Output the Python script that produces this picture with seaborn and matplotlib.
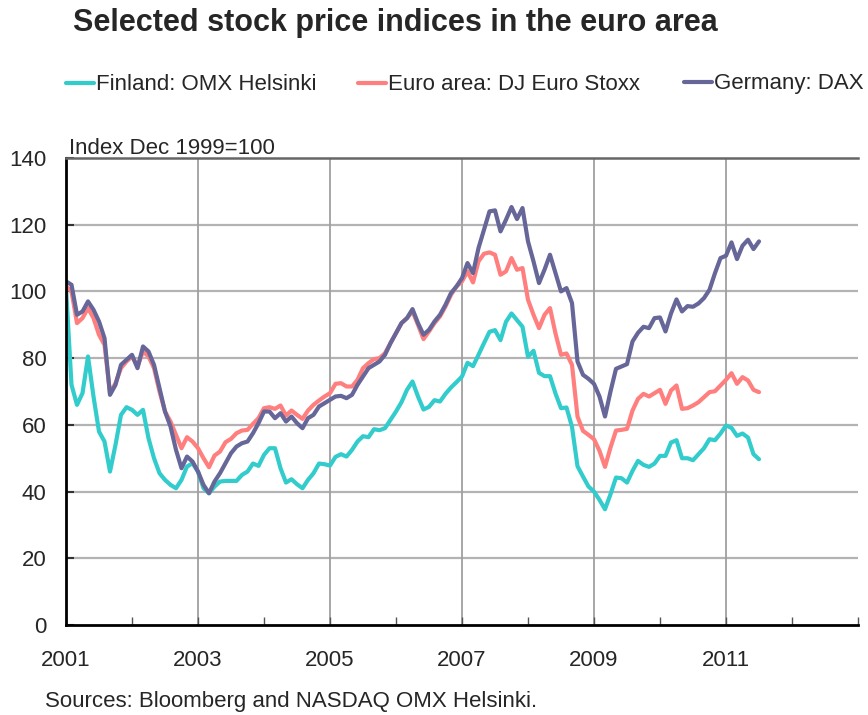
import numpy as np
import pandas as pd
import matplotlib
matplotlib.use("Agg")
import matplotlib.pyplot as plt
import seaborn as sns

# ---- data (monthly, Jan 2001 - Jul 2011) ----
start_year = 2001
finland = [
    101, 72, 66, 69.5, 80.5, 68.5, 58, 55, 46, 54, 63, 65.3,
    64.5, 63, 64.5, 56, 50, 45.5, 43.5, 42, 41, 43.5, 47.5, 48.5,
    46, 41, 39.5, 41.5, 43, 43.2, 43.2, 43.2, 45, 46, 48.4, 47.7,
    51, 53, 53, 47, 42.7, 43.7, 42.2, 41, 43.5, 45.5, 48.4, 48.2,
    47.8, 50.4, 51.2, 50.5, 52.5, 55, 56.6, 56.3, 58.7, 58.4, 59, 61.5,
    64, 66.8, 70.5, 73, 68.5, 64.6, 65.4, 67.4, 67, 69.3, 71.2, 72.8,
    74.5, 78.6, 77.6, 81, 84.5, 87.9, 88.4, 85.4, 90.9, 93.4, 91.4, 89.4,
    80.4, 82.2, 75.6, 74.6, 74.6, 69.4, 65, 65.2, 59.4, 47.6, 44.5, 41.5,
    40, 37.5, 34.7, 39.2, 44.2, 44, 42.7, 46.2, 49.2, 48, 47.4, 48.4,
    50.7, 50.7, 54.7, 55.4, 50, 50, 49.4, 51.2, 53, 55.7, 55.4, 57.4,
    59.8, 59.1, 56.7, 57.4, 56.2, 51.2, 49.7,
]
euro_area = [
    101.5, 100, 90.5, 92, 95, 92, 87, 84, 69.5, 72.5, 77, 79,
    80.5, 77.5, 82, 80.5, 77, 70, 64, 61, 57, 53, 56.3, 55,
    53, 50, 47.3, 50.8, 52, 54.8, 55.8, 57.5, 58.3, 58.5, 60.3, 62,
    65, 65.3, 64.8, 65.8, 62.8, 64.3, 63, 61.8, 64.3, 66, 67.3, 68.5,
    69.5, 72.3, 72.5, 71.5, 71.5, 73.5, 77, 78.5, 79.7, 80, 81.5, 84.5,
    87.5, 90.5, 92, 94, 90, 85.7, 88, 90.5, 92.5, 95.5, 99, 101.5,
    103, 106, 102.7, 109, 111.3, 111.7, 111, 105, 106, 110, 106.5, 107,
    97.5, 93, 89, 93, 95, 87.4, 81, 81.4, 78, 62.5, 58.2, 57,
    55.7, 52.2, 47.4, 53.2, 58.3, 58.5, 58.8, 64.3, 67.8, 69.3, 68.5, 69.5,
    70.5, 66.3, 70.3, 71.8, 64.8, 65, 65.8, 66.8, 68.3, 69.8, 70.1, 71.8,
    73.5, 75.5, 72.3, 74.3, 73.3, 70.5, 69.8,
]
germany = [
    103, 102, 93, 94, 97, 94.5, 91, 86, 69, 72, 78, 79.5,
    81, 77, 83.5, 82, 78, 71, 64, 59.5, 52.5, 47, 50.5, 49,
    46, 42, 39.5, 43, 45.5, 48.5, 51.5, 53.5, 54.5, 55, 57.5, 60.5,
    64, 64, 62, 63.5, 61, 62.5, 60.5, 59, 62, 63, 65.5, 66.5,
    67.5, 68.5, 68.7, 68, 69, 72, 74.5, 77, 78, 79, 81, 84.5,
    87.5, 90.5, 92, 94.7, 90.5, 87, 88.5, 91, 93, 96, 99.5, 101.5,
    104, 108.5, 105.5, 113, 118.5, 124, 124.3, 118, 121.5, 125.3, 121.7, 125,
    115, 109, 102.5, 106.5, 111, 105.5, 100, 101, 96.5, 79, 75, 73.8,
    72.3, 68.5, 62.5, 70, 76.8, 77.5, 78.2, 85, 87.6, 89.4, 89, 92,
    92.2, 88, 93.4, 97.6, 94, 95.6, 95.4, 96.4, 98, 100.5, 105.5, 110,
    110.7, 114.7, 109.7, 113.7, 115.5, 112.7, 115,
]
series_names = ["Finland: OMX Helsinki", "Euro area: DJ Euro Stoxx", "Germany: DAX"]
colors = ["#33CCCC", "#FF7F7F", "#666699"]
year_ticks = list(range(2001, 2014))
year_labels = [str(y) if y % 2 == 1 and y < 2013 else "" for y in year_ticks]
y_ticks = [0, 20, 40, 60, 80, 100, 120, 140]

title = "Selected stock price indices in the euro area"
unit_label = "Index Dec 1999=100"
source = "Sources: Bloomberg and NASDAQ OMX Helsinki."

# ---- build long table ----
n = len(finland)
years = start_year + np.arange(n) / 12.0
frames = []
for name, vals in zip(series_names, [finland, euro_area, germany]):
    frames.append(pd.DataFrame({"year": years, "value": vals, "series": name}))
df = pd.concat(frames, ignore_index=True)

# ---- plot ----
sns.set_theme(style="white")
plt.rcParams["font.family"] = ["Liberation Sans", "DejaVu Sans"]

W, H = 868, 715
fig = plt.figure(figsize=(W / 100, H / 100), dpi=100)
ax = fig.add_axes([66 / W, 1 - 625 / H, (858 - 66) / W, (625 - 158) / H])

sns.lineplot(data=df, x="year", y="value", hue="series", hue_order=series_names,
             palette=colors, linewidth=3, ax=ax, legend=True)

ax.set_xlim(2001, 2013)
ax.set_ylim(0, 140)
ax.set_xticks(year_ticks)
ax.set_xticklabels(year_labels)
ax.set_yticks(y_ticks)
ax.set_xlabel("")
ax.set_ylabel("")

ax.tick_params(axis="x", direction="in", length=6, width=1, color="#555555",
               labelsize=16, pad=18, bottom=True)
ax.tick_params(axis="y", direction="in", length=6, width=1.5, color="#333333",
               labelsize=16, pad=14, left=True)

for y in y_ticks[1:-1]:
    ax.axhline(y, color="#b3b3b3", lw=1.6, zorder=0)
for yr in year_ticks:
    if yr % 2 == 1 and 2001 < yr < 2013:
        ax.axvline(yr, color="#a0a0a0", lw=1.3, zorder=0)

for side in ["left", "bottom"]:
    ax.spines[side].set_color("black")
    ax.spines[side].set_linewidth(2)
ax.spines["top"].set_color("#666666")
ax.spines["top"].set_linewidth(1.8)
ax.spines["right"].set_visible(False)

handles, labels = ax.get_legend_handles_labels()
ax.get_legend().remove()
legend_x = [66, 358, 684]
legend_y = [85, 85, 84]
for h, l, lx, ly in zip(handles, labels, legend_x, legend_y):
    fig.legend([h], [l], loc="center left", bbox_to_anchor=(lx / W, 1 - ly / H),
               frameon=False, fontsize=16, handlelength=1.25, handletextpad=0.1,
               borderpad=0, borderaxespad=0)

fig.text(73 / W, 1 - 23 / H, title, fontsize=22, fontweight="bold", va="center", ha="left")
fig.text(69 / W, 1 - 148 / H, unit_label, fontsize=16, va="center", ha="left")
fig.text(45 / W, 1 - 701 / H, source, fontsize=16, va="center", ha="left")

fig.savefig("out.png", dpi=100)
